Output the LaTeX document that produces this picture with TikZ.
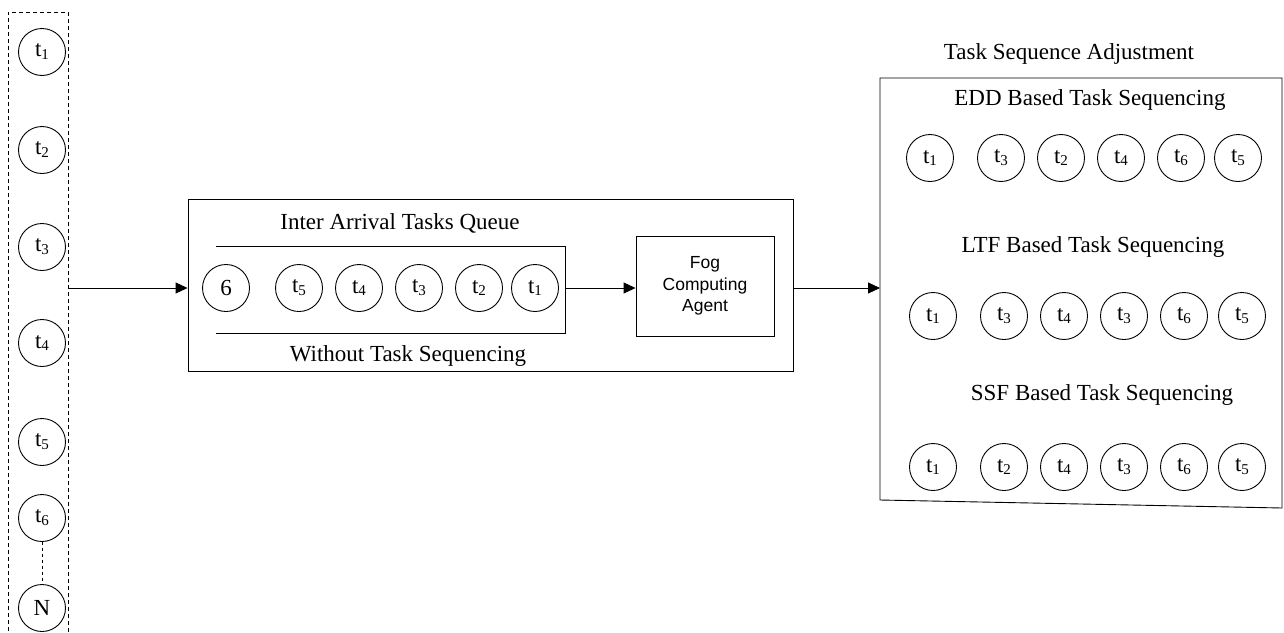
\documentclass[tikz,border=0pt]{standalone}
\usepackage{fontspec}
\setmainfont{Liberation Serif}
\newfontfamily\arialf{Liberation Sans}
\usetikzlibrary{arrows.meta}
\newcommand{\tk}[1]{t\raisebox{-0.28ex}{\fontsize{15}{15}\selectfont #1}}
\begin{document}
\begin{tikzpicture}[x=1pt,y=-1pt,
  line width=0.9pt,
  tc/.style={circle,draw,minimum size=47pt,inner sep=0pt,font=\fontsize{23}{26}\selectfont},
  lbl/.style={inner sep=0pt,font=\fontsize{23}{26}\selectfont},
  boxr/.style={draw,inner sep=0pt},
  arr/.style={-{Triangle[length=12pt,width=11pt]}},
  dbox/.style={draw,dash pattern=on 4pt off 3pt,inner sep=0pt}
]
\useasboundingbox (0,0) rectangle (1284,632);

% left dashed column
\node[dbox,minimum width=60pt,minimum height=630pt] (colbox) at (38,327) {};
\node[tc] (L1) at (42,52) {\tk{1}};
\node[tc] (L2) at (42,150) {\tk{2}};
\node[tc] (L3) at (42,247) {\tk{3}};
\node[tc] (L4) at (42,343) {\tk{4}};
\node[tc] (L5) at (42,442) {\tk{5}};
\node[tc] (L6) at (42,518) {\tk{6}};
\node[tc] (LN) at (42,608) {N};
\draw[dashed] (L6) -- (LN);

% middle box
\node[boxr,minimum width=605pt,minimum height=172pt] (mainbox) at (490.5,285.5) {};
\node[lbl] (qtitle) at (400,223) {Inter Arrival Tasks Queue};
\node[lbl] (qsub) at (408,356) {Without Task Sequencing};
\coordinate (qtl) at (216,246);
\coordinate (qtr) at (565,246);
\coordinate (qbr) at (565,333);
\coordinate (qbl) at (216,333);
\draw (qtl) -- (qtr) -- (qbr) -- (qbl);
\coordinate (qend) at (565,288);
\node[tc] (q6) at (226,288) {6};
\node[tc] (q5) at (299,288) {\tk{5}};
\node[tc] (q4) at (359,288) {\tk{4}};
\node[tc] (q3) at (419,288) {\tk{3}};
\node[tc] (q2) at (479,288) {\tk{2}};
\node[tc] (q1) at (535,288) {\tk{1}};

\node[boxr,minimum width=138pt,minimum height=100pt,align=center,
  font=\arialf\fontsize{17.5}{21.5}\selectfont] (fog) at (705,286) {Fog\\Computing\\Agent};

% right box (slightly skewed)
\coordinate (rtl) at (880,78);
\coordinate (rtr) at (1282,78);
\coordinate (rbr) at (1282,508);
\coordinate (rbl) at (880,500);
\draw (rtl) -- (rtr) -- (rbr) -- (rbl) -- cycle;
\coordinate (rin) at (880,288);
\node[lbl] (rtitle) at (1069,54) {Task Sequence Adjustment};
\node[lbl] (edd) at (1090,100) {EDD Based Task Sequencing};
\node[lbl] (ltf) at (1093,247) {LTF Based Task Sequencing};
\node[lbl] (ssf) at (1102,395) {SSF Based Task Sequencing};

\node[tc] (e1) at (930,158) {\tk{1}};
\node[tc] (e2) at (1001,158) {\tk{3}};
\node[tc] (e3) at (1061,158) {\tk{2}};
\node[tc] (e4) at (1121,158) {\tk{4}};
\node[tc] (e5) at (1181,158) {\tk{6}};
\node[tc] (e6) at (1238,158) {\tk{5}};

\node[tc] (l1) at (933,316) {\tk{1}};
\node[tc] (l2) at (1004,316) {\tk{3}};
\node[tc] (l3) at (1064,316) {\tk{4}};
\node[tc] (l4) at (1124,316) {\tk{3}};
\node[tc] (l5) at (1184,316) {\tk{6}};
\node[tc] (l6) at (1242,316) {\tk{5}};

\node[tc] (s1) at (933,467) {\tk{1}};
\node[tc] (s2) at (1004,467) {\tk{2}};
\node[tc] (s3) at (1064,467) {\tk{4}};
\node[tc] (s4) at (1124,467) {\tk{3}};
\node[tc] (s5) at (1184,467) {\tk{6}};
\node[tc] (s6) at (1242,467) {\tk{5}};

% connectors
\draw[arr] (colbox.east |- q6) -- (mainbox.west |- q6);
\draw[arr] (qend) -- (fog.west |- qend);
\draw[arr] (mainbox.east |- qend) -- (rin);
\end{tikzpicture}
\end{document}
